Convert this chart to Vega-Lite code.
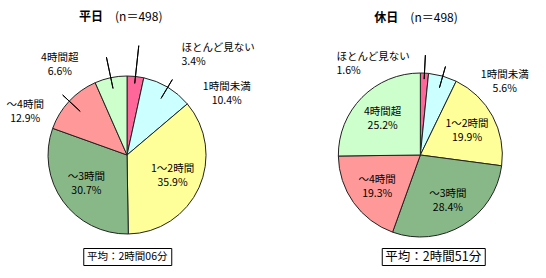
{
  "$schema": "https://vega.github.io/schema/vega-lite/v6.json",
  "padding": {"left": 0, "top": 11, "right": 5, "bottom": 5},
  "config": {
    "view": {"stroke": null},
    "font": "Noto Sans CJK JP",
    "text": {"font": "Noto Sans CJK JP", "fontSize": 10.5, "color": "#000", "baseline": "middle", "lineHeight": 14},
    "title": {"font": "Noto Sans CJK JP", "fontSize": 12, "fontWeight": "bold", "color": "#000", "subtitleFont": "Noto Sans CJK JP", "subtitleFontSize": 12, "subtitleFontWeight": "normal", "subtitleColor": "#000", "subtitlePadding": -12, "anchor": "start", "frame": "group"}
  },
  "datasets": {
    "heijitsu": [
      {"cat": "ほとんど見ない", "pct": 3.4, "order": 1},
      {"cat": "1時間未満", "pct": 10.4, "order": 2},
      {"cat": "1～2時間", "pct": 35.9, "order": 3},
      {"cat": "～3時間", "pct": 30.7, "order": 4},
      {"cat": "～4時間", "pct": 12.9, "order": 5},
      {"cat": "4時間超", "pct": 6.6, "order": 6}
    ],
    "kyujitsu": [
      {"cat": "ほとんど見ない", "pct": 1.6, "order": 1},
      {"cat": "1時間未満", "pct": 5.6, "order": 2},
      {"cat": "1～2時間", "pct": 19.9, "order": 3},
      {"cat": "～3時間", "pct": 28.4, "order": 4},
      {"cat": "～4時間", "pct": 19.3, "order": 5},
      {"cat": "4時間超", "pct": 25.2, "order": 6}
    ],
    "avgL": [{"avg": "平均：2時間06分"}],
    "avgR": [{"avg": "平均：2時間51分"}]
  },
  "spacing": 81,
  "resolve": {"scale": {"theta": "independent", "color": "independent"}},
  "hconcat": [
    {
      "center": true,
      "spacing": 7,
      "vconcat": [
        {
          "title": {"text": "平日", "subtitle": "\u200b　　　(n＝498)", "dx": 79, "offset": 19},
          "width": 254,
          "height": 170,
          "data": {"name": "heijitsu"},
          "transform": [
            {"stack": "pct", "groupby": [], "sort": [{"field": "order"}], "as": ["p0", "p1"]},
            {"calculate": "(datum.p0 + datum.p1) / 2", "as": "mid"},
            {"calculate": "[datum.cat, format(datum.pct, '.1f') + '%']", "as": "label"}
          ],
          "layer": [
            {
              "mark": {"type": "arc", "outerRadius": 79, "stroke": "#222", "strokeWidth": 1},
              "encoding": {
                "theta": {"field": "p0", "type": "quantitative", "stack": null, "scale": {"domain": [0, 99.9]}},
                "theta2": {"field": "p1"},
                "color": {"field": "cat", "type": "nominal", "legend": null,
                  "scale": {"domain": ["ほとんど見ない", "1時間未満", "1～2時間", "～3時間", "～4時間", "4時間超"],
                            "range": ["#FF6699", "#CCFFFF", "#FFFF99", "#88B888", "#FF9999", "#CCFFCC"]}}
              }
            },
            {
              "transform": [{"filter": {"field": "cat", "oneOf": ["1～2時間", "～3時間"]}}],
              "mark": {"type": "text", "radius": 50, "align": "center", "dy": -7},
              "encoding": {
                "theta": {"field": "mid", "type": "quantitative", "stack": null, "scale": {"domain": [0, 99.9]}},
                "text": {"field": "label", "type": "nominal"}
              }
            },
            {
              "transform": [{"filter": {"field": "cat", "equal": "ほとんど見ない"}}],
              "layer": [
                {"mark": {"type": "arc", "radius": 110, "radius2": 72, "filled": false, "stroke": "#000", "strokeWidth": 1},
                 "encoding": {"theta": {"field": "mid", "type": "quantitative", "stack": null, "scale": {"domain": [0, 99.9]}}, "theta2": {"field": "mid"}}},
                {"mark": {"type": "text", "radius": 79, "align": "left", "dx": 46, "dy": -28},
                 "encoding": {"theta": {"field": "mid", "type": "quantitative", "stack": null, "scale": {"domain": [0, 99.9]}}, "text": {"field": "label", "type": "nominal"}}}
              ]
            },
            {
              "transform": [{"filter": {"field": "cat", "equal": "1時間未満"}}],
              "layer": [
                {"mark": {"type": "arc", "radius": 88, "radius2": 66, "filled": false, "stroke": "#000", "strokeWidth": 1},
                 "encoding": {"theta": {"field": "mid", "type": "quantitative", "stack": null, "scale": {"domain": [0, 99.9]}}, "theta2": {"field": "mid"}}},
                {"mark": {"type": "text", "radius": 79, "align": "center", "dx": 59, "dy": 0},
                 "encoding": {"theta": {"field": "mid", "type": "quantitative", "stack": null, "scale": {"domain": [0, 99.9]}}, "text": {"field": "label", "type": "nominal"}}}
              ]
            },
            {
              "transform": [{"filter": {"field": "cat", "equal": "～4時間"}}],
              "layer": [
                {"mark": {"type": "arc", "radius": 88, "radius2": 64, "filled": false, "stroke": "#000", "strokeWidth": 1},
                 "encoding": {"theta": {"field": "mid", "type": "quantitative", "stack": null, "scale": {"domain": [0, 99.9]}}, "theta2": {"field": "mid"}}},
                {"mark": {"type": "text", "radius": 79, "align": "center", "dx": -44, "dy": 4},
                 "encoding": {"theta": {"field": "mid", "type": "quantitative", "stack": null, "scale": {"domain": [0, 99.9]}}, "text": {"field": "label", "type": "nominal"}}}
              ]
            },
            {
              "transform": [{"filter": {"field": "cat", "equal": "4時間超"}}],
              "layer": [
                {"mark": {"type": "arc", "radius": 100, "radius2": 68, "filled": false, "stroke": "#000", "strokeWidth": 1},
                 "encoding": {"theta": {"field": "mid", "type": "quantitative", "stack": null, "scale": {"domain": [0, 99.9]}}, "theta2": {"field": "mid"}}},
                {"mark": {"type": "text", "radius": 79, "align": "center", "dx": -51, "dy": -20},
                 "encoding": {"theta": {"field": "mid", "type": "quantitative", "stack": null, "scale": {"domain": [0, 99.9]}}, "text": {"field": "label", "type": "nominal"}}}
              ]
            }
          ]
        },
        {
          "width": 88,
          "height": 17,
          "view": {"stroke": "#000", "strokeWidth": 1},
          "data": {"name": "avgL"},
          "mark": {"type": "text", "fontSize": 10.5, "align": "center"},
          "encoding": {"text": {"field": "avg", "type": "nominal"}}
        }
      ]
    },
    {
      "center": true,
      "spacing": 7,
      "vconcat": [
        {
          "title": {"text": "休日", "subtitle": "\u200b　　　(n＝498)", "dx": 36, "offset": 27},
          "width": 164,
          "height": 170,
          "data": {"name": "kyujitsu"},
          "transform": [
            {"stack": "pct", "groupby": [], "sort": [{"field": "order"}], "as": ["p0", "p1"]},
            {"calculate": "(datum.p0 + datum.p1) / 2", "as": "mid"},
            {"calculate": "[datum.cat, format(datum.pct, '.1f') + '%']", "as": "label"}
          ],
          "layer": [
            {
              "mark": {"type": "arc", "outerRadius": 82, "stroke": "#222", "strokeWidth": 1},
              "encoding": {
                "theta": {"field": "p0", "type": "quantitative", "stack": null, "scale": {"domain": [0, 100]}},
                "theta2": {"field": "p1"},
                "color": {"field": "cat", "type": "nominal", "legend": null,
                  "scale": {"domain": ["ほとんど見ない", "1時間未満", "1～2時間", "～3時間", "～4時間", "4時間超"],
                            "range": ["#FF6699", "#CCFFFF", "#FFFF99", "#88B888", "#FF9999", "#CCFFCC"]}}
              }
            },
            {
              "transform": [{"filter": {"field": "cat", "oneOf": ["1～2時間", "～3時間", "～4時間", "4時間超"]}}],
              "mark": {"type": "text", "radius": 53, "align": "center", "dy": -6},
              "encoding": {
                "theta": {"field": "mid", "type": "quantitative", "stack": null, "scale": {"domain": [0, 100]}},
                "text": {"field": "label", "type": "nominal"}
              }
            },
            {
              "transform": [{"filter": {"field": "cat", "equal": "ほとんど見ない"}}],
              "layer": [
                {"mark": {"type": "arc", "radius": 100, "radius2": 76, "filled": false, "stroke": "#000", "strokeWidth": 1},
                 "encoding": {"theta": {"field": "mid", "type": "quantitative", "stack": null, "scale": {"domain": [0, 100]}}, "theta2": {"field": "mid"}}},
                {"mark": {"type": "text", "radius": 82, "align": "left", "dx": -88, "dy": -16},
                 "encoding": {"theta": {"field": "mid", "type": "quantitative", "stack": null, "scale": {"domain": [0, 100]}}, "text": {"field": "label", "type": "nominal"}}}
              ]
            },
            {
              "transform": [{"filter": {"field": "cat", "equal": "1時間未満"}}],
              "layer": [
                {"mark": {"type": "arc", "radius": 92, "radius2": 70, "filled": false, "stroke": "#000", "strokeWidth": 1},
                 "encoding": {"theta": {"field": "mid", "type": "quantitative", "stack": null, "scale": {"domain": [0, 100]}}, "theta2": {"field": "mid"}}},
                {"mark": {"type": "text", "radius": 82, "align": "center", "dx": 62, "dy": -1},
                 "encoding": {"theta": {"field": "mid", "type": "quantitative", "stack": null, "scale": {"domain": [0, 100]}}, "text": {"field": "label", "type": "nominal"}}}
              ]
            }
          ]
        },
        {
          "width": 103,
          "height": 17,
          "view": {"stroke": "#000", "strokeWidth": 1},
          "data": {"name": "avgR"},
          "mark": {"type": "text", "fontSize": 12.5, "align": "center"},
          "encoding": {"text": {"field": "avg", "type": "nominal"}}
        }
      ]
    }
  ]
}
